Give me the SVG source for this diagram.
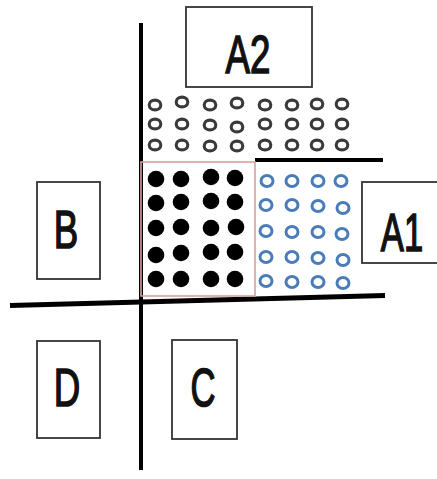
<svg xmlns="http://www.w3.org/2000/svg" width="437" height="479" viewBox="0 0 437 479">
<style>
.box{fill:#fff;stroke:#333;stroke-width:1.8}
.lbl{font-family:"Liberation Sans",Arial,sans-serif;font-weight:normal;font-size:54px;fill:#111;stroke:#111;stroke-width:1.6;text-anchor:middle}
.axis{stroke:#000;fill:none;stroke-linecap:butt}
.dot{fill:#000}
.blue{fill:none;stroke:#4a7cba;stroke-width:3}
.gray{fill:none;stroke:#3a3a3a;stroke-width:3.1}
</style>
<rect width="437" height="479" fill="#fff"/>
<g id="connectors">
<line class="axis" x1="141" y1="23" x2="141" y2="470" stroke-width="4"/>
<line class="axis" x1="10" y1="305.5" x2="385" y2="295.5" stroke-width="5"/>
<line class="axis" x1="255" y1="160" x2="383" y2="160" stroke-width="4"/>
<rect x="141" y="162" width="114" height="134" fill="none" stroke="#d9a0a0" stroke-width="1.6"/>
</g>
<g id="gray-circles">
<ellipse class="gray" cx="155" cy="105" rx="5.8" ry="4.9"/>
<ellipse class="gray" cx="182" cy="102" rx="5.8" ry="4.9"/>
<ellipse class="gray" cx="210" cy="105" rx="5.8" ry="4.9"/>
<ellipse class="gray" cx="237" cy="103" rx="5.8" ry="4.9"/>
<ellipse class="gray" cx="265" cy="105" rx="5.8" ry="4.9"/>
<ellipse class="gray" cx="292" cy="105" rx="5.8" ry="4.9"/>
<ellipse class="gray" cx="317" cy="104" rx="5.8" ry="4.9"/>
<ellipse class="gray" cx="342" cy="104" rx="5.8" ry="4.9"/>
<ellipse class="gray" cx="155" cy="124" rx="5.8" ry="4.9"/>
<ellipse class="gray" cx="182" cy="124" rx="5.8" ry="4.9"/>
<ellipse class="gray" cx="210" cy="125" rx="5.8" ry="4.9"/>
<ellipse class="gray" cx="237" cy="127" rx="5.8" ry="4.9"/>
<ellipse class="gray" cx="265" cy="124" rx="5.8" ry="4.9"/>
<ellipse class="gray" cx="292" cy="124" rx="5.8" ry="4.9"/>
<ellipse class="gray" cx="317" cy="124" rx="5.8" ry="4.9"/>
<ellipse class="gray" cx="342" cy="124" rx="5.8" ry="4.9"/>
<ellipse class="gray" cx="155" cy="145" rx="5.8" ry="4.9"/>
<ellipse class="gray" cx="182" cy="145" rx="5.8" ry="4.9"/>
<ellipse class="gray" cx="210" cy="146" rx="5.8" ry="4.9"/>
<ellipse class="gray" cx="237" cy="146" rx="5.8" ry="4.9"/>
<ellipse class="gray" cx="265" cy="145" rx="5.8" ry="4.9"/>
<ellipse class="gray" cx="292" cy="145" rx="5.8" ry="4.9"/>
<ellipse class="gray" cx="317" cy="145" rx="5.8" ry="4.9"/>
<ellipse class="gray" cx="342" cy="145" rx="5.8" ry="4.9"/>
</g>
<g id="black-dots">
<circle class="dot" cx="156" cy="179" r="8.3"/>
<circle class="dot" cx="181" cy="179" r="8.3"/>
<circle class="dot" cx="211" cy="177" r="8.3"/>
<circle class="dot" cx="235" cy="178" r="8.3"/>
<circle class="dot" cx="156" cy="203" r="8.3"/>
<circle class="dot" cx="181" cy="202" r="8.3"/>
<circle class="dot" cx="211" cy="201" r="8.3"/>
<circle class="dot" cx="235" cy="202" r="8.3"/>
<circle class="dot" cx="156" cy="228" r="8.3"/>
<circle class="dot" cx="181" cy="227" r="8.3"/>
<circle class="dot" cx="211" cy="228" r="8.3"/>
<circle class="dot" cx="236" cy="227" r="8.3"/>
<circle class="dot" cx="156" cy="255" r="8.3"/>
<circle class="dot" cx="181" cy="253" r="8.3"/>
<circle class="dot" cx="211" cy="252" r="8.3"/>
<circle class="dot" cx="235" cy="252" r="8.3"/>
<circle class="dot" cx="156" cy="279" r="8.3"/>
<circle class="dot" cx="181" cy="279" r="8.3"/>
<circle class="dot" cx="211" cy="279" r="8.3"/>
<circle class="dot" cx="235" cy="279" r="8.3"/>
</g>
<g id="blue-circles">
<ellipse class="blue" cx="267" cy="181" rx="6" ry="5.4"/>
<ellipse class="blue" cx="292" cy="181" rx="6" ry="5.4"/>
<ellipse class="blue" cx="318" cy="181" rx="6" ry="5.4"/>
<ellipse class="blue" cx="341" cy="181" rx="6" ry="5.4"/>
<ellipse class="blue" cx="266" cy="205" rx="6" ry="5.4"/>
<ellipse class="blue" cx="292" cy="205" rx="6" ry="5.4"/>
<ellipse class="blue" cx="318" cy="206" rx="6" ry="5.4"/>
<ellipse class="blue" cx="343" cy="208" rx="6" ry="5.4"/>
<ellipse class="blue" cx="266" cy="231" rx="6" ry="5.4"/>
<ellipse class="blue" cx="292" cy="232" rx="6" ry="5.4"/>
<ellipse class="blue" cx="318" cy="232" rx="6" ry="5.4"/>
<ellipse class="blue" cx="342" cy="234" rx="6" ry="5.4"/>
<ellipse class="blue" cx="266" cy="257" rx="6" ry="5.4"/>
<ellipse class="blue" cx="292" cy="257" rx="6" ry="5.4"/>
<ellipse class="blue" cx="318" cy="258" rx="6" ry="5.4"/>
<ellipse class="blue" cx="343" cy="260" rx="6" ry="5.4"/>
<ellipse class="blue" cx="266" cy="281" rx="6" ry="5.4"/>
<ellipse class="blue" cx="292" cy="282" rx="6" ry="5.4"/>
<ellipse class="blue" cx="318" cy="282" rx="6" ry="5.4"/>
<ellipse class="blue" cx="343" cy="283" rx="6" ry="5.4"/>
</g>
<g id="A2">
<rect class="box" x="186" y="7" width="126" height="80"/>
<text class="lbl" transform="translate(248,73) scale(0.68,1)" font-size="55">A2</text>
</g>
<g id="A1">
<rect class="box" x="362" y="182" width="90" height="81"/>
<text class="lbl" transform="translate(402,251) scale(0.64,1)">A1</text>
</g>
<g id="B">
<rect class="box" x="37" y="182" width="63" height="97"/>
<text class="lbl" transform="translate(66,248) scale(0.68,1)" font-size="51">B</text>
</g>
<g id="D">
<rect class="box" x="37" y="341" width="63" height="97"/>
<text class="lbl" transform="translate(67,406) scale(0.68,1)" font-size="51">D</text>
</g>
<g id="C">
<rect class="box" x="172" y="340" width="65" height="99"/>
<text class="lbl" transform="translate(203,406) scale(0.64,1)" font-size="51">C</text>
</g>
</svg>
